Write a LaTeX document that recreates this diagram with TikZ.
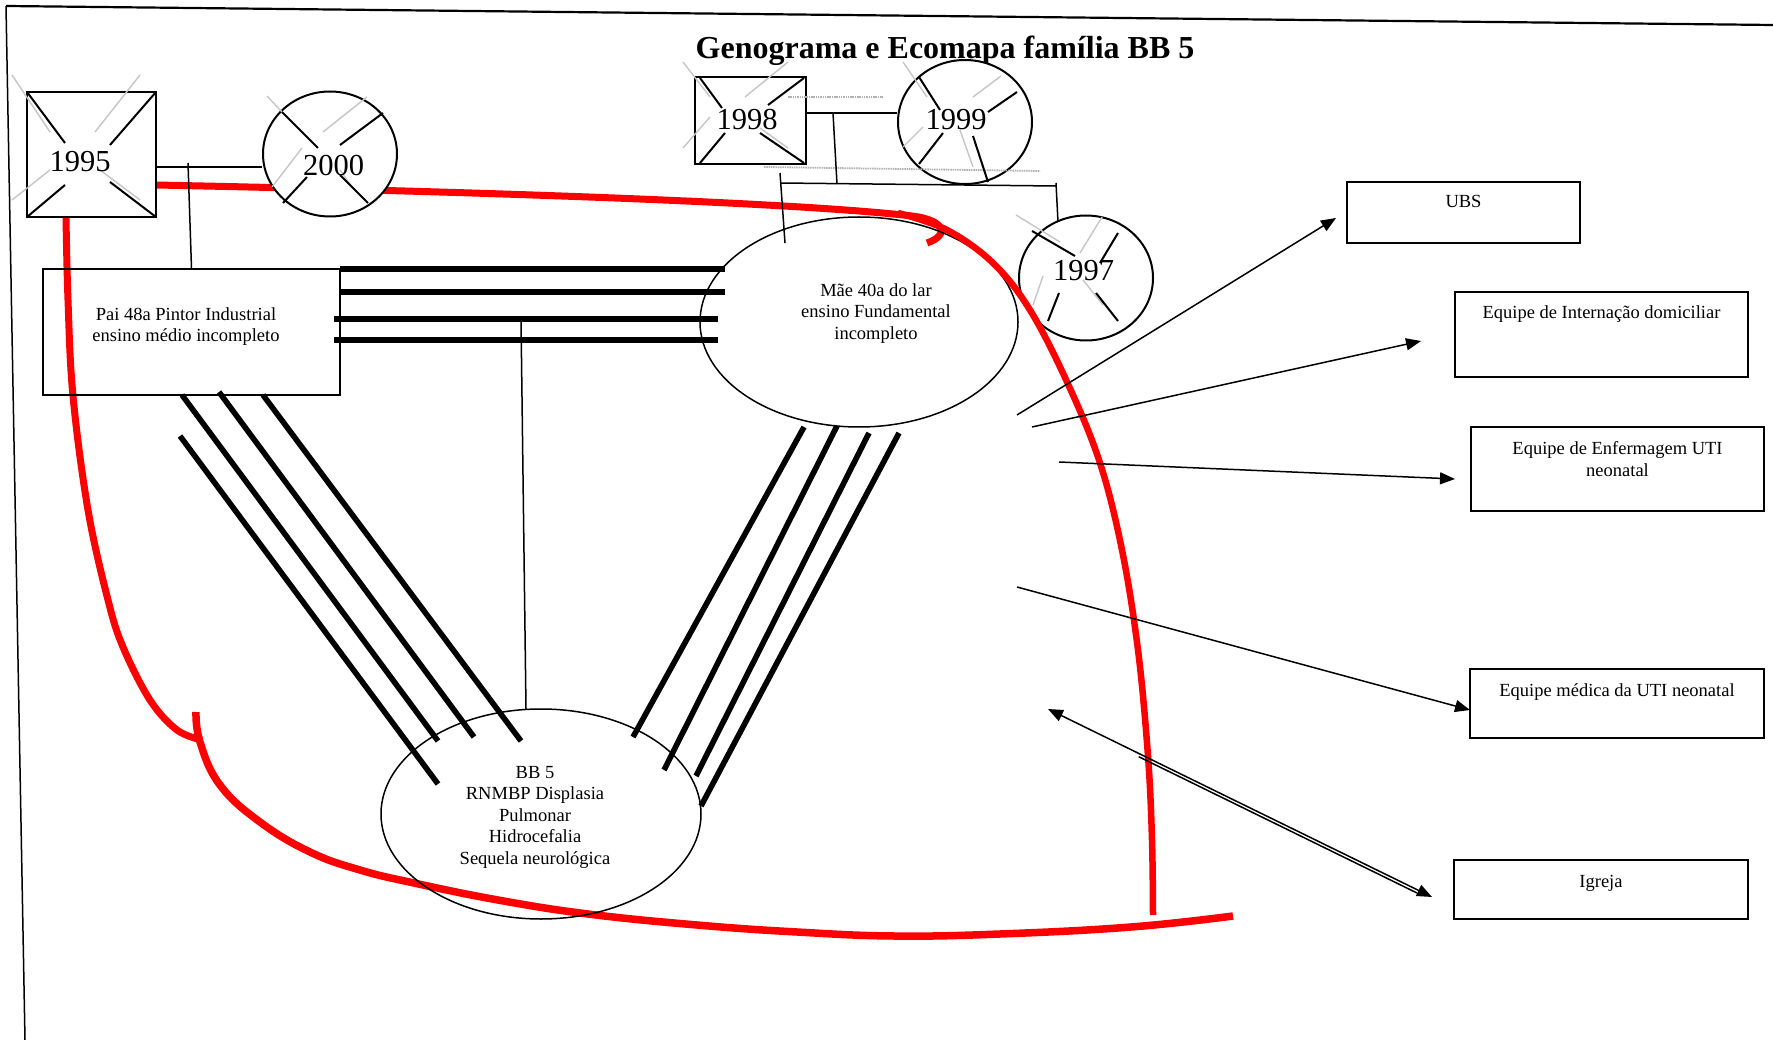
\documentclass[tikz,border=0pt]{standalone}
\usepackage{fontspec}
\setmainfont{Liberation Serif}
\usetikzlibrary{arrows.meta,shapes.geometric}
\begin{document}
\begin{tikzpicture}[x=1pt,y=-1pt,
  frameline/.style={line width=1.5pt},
  sym/.style={draw,line width=2pt,fill=white,inner sep=0pt},
  boxsym/.style={sym,rectangle},
  circsym/.style={sym,ellipse},
  xstroke/.style={line width=2pt},
  ghost/.style={gray!45,line width=1.4pt},
  link/.style={line width=1.5pt},
  bond/.style={line width=5.6pt},
  stress/.style={red,line width=7pt},
  eco/.style={line width=1.5pt,-{Triangle[length=15pt,width=12pt]}},
  ecobox/.style={draw,line width=2pt,rectangle,inner sep=0pt},
  person/.style={draw,line width=1.5pt,inner sep=0pt},
  yr/.style={font=\fontsize{30.5}{36}\selectfont,anchor=base,inner sep=0pt},
  txt/.style={font=\fontsize{18.5}{21.5}\selectfont,align=center,inner sep=0pt},
]
\useasboundingbox (0,0) rectangle (1773,1040);

% page frame
\draw[frameline,line width=2.2pt] (6,6) -- (1773,25);
\draw[frameline] (6,6) -- (25,1040);

% title
\node[font=\bfseries\fontsize{32}{38}\selectfont,anchor=base,inner sep=0pt] (title) at (945,59) {Genograma e Ecomapa família BB 5};

% stressful ties (red), lower layer
\draw[stress] (156,185) .. controls (500,192) and (800,203) .. (912,216)
              .. controls (945,220) and (950,235) .. (927,243);
\draw[stress] plot[smooth,tension=0.6] coordinates {(66,217) (68,300) (73,396) (88,510) (108,600) (123,647) (150,700) (177,730) (202,740)};
\draw[stress,line width=7.5pt] plot[smooth,tension=0.7] coordinates {(196,712) (200,742) (220,785) (260,822) (310,852) (360,870) (414,883) (498,900) (588,914) (697,925) (797,932) (894,936) (1000,934) (1131,927) (1233,916)};

% genogram symbols
\node[boxsym,minimum width=129pt,minimum height=125pt] (g1995) at (91.5,154.5) {};
\node[circsym,minimum width=134pt,minimum height=125pt] (g2000) at (330,154) {};
\node[boxsym,minimum width=111pt,minimum height=87pt] (g1998) at (750.5,120.5) {};
\node[circsym,minimum width=134pt,minimum height=124pt] (g1999) at (965,122) {};
\node[circsym,minimum width=134pt,minimum height=125pt] (g1997) at (1086,278) {};

% faint strokes
\draw[ghost] (12,75) -- (50,132) (140,75) -- (95,132) (12,200) -- (50,170) (140,200) -- (100,170);
\draw[ghost] (267,96) -- (283,113) (367,97) -- (323,132) (302,148) -- (272,187) (340,170) -- (352,187);
\draw[ghost] (683,62) -- (710,97) (788,62) -- (745,97) (683,148) -- (710,117) (788,148) -- (760,128);
\draw[ghost] (903,62) -- (927,97) (1001,76) -- (973,97) (903,147) -- (923,127) (960,130) -- (973,167);
\draw[ghost] (1016,215) -- (1060,242) (1102,217) -- (1080,253) (1043,276) -- (1033,305) (1083,280) -- (1103,305);
\draw[ghost,gray!60,line width=1.8pt,dash pattern=on 1.5pt off 0.8pt] (788,97) -- (883,97);
\draw[ghost,gray!60,line width=1.8pt,dash pattern=on 1.5pt off 0.8pt] (764,167) -- (1040,171);

% deceased crosses
\draw[xstroke] (27,92) -- (65,143) (156,92) -- (110,145) (27,217) -- (65,185) (156,217) -- (110,182);
\draw[xstroke] (282,112) -- (318,148) (383,113) -- (340,145) (283,203) -- (307,177) (368,203) -- (340,175);
\draw[xstroke] (700,78) -- (722,108) (804,78) -- (768,105) (700,163) -- (725,133) (804,163) -- (760,133);
\draw[xstroke] (919,77) -- (940,110) (1017,92) -- (988,112) (919,164) -- (943,133) (973,136) -- (988,182);
\draw[xstroke] (1032,231) -- (1075,256) (1118,233) -- (1100,263) (1059,293) -- (1048,321) (1096,293) -- (1118,321);

% years
\node[yr] (t1995) at (80,171.5) {1995};
\node[yr] (t2000) at (333.5,176) {2000};
\node[yr] (t1998) at (747,129.5) {1998};
\node[yr] (t1999) at (956,129.5) {1999};
\node[yr] (t1997) at (1083.5,281) {1997};

% family members
\node[person,rectangle,minimum width=297pt,minimum height=126pt] (pai) at (191.5,332) {};
\node[person,ellipse,minimum width=318pt,minimum height=210pt] (mae) at (859,322) {};
\node[person,ellipse,minimum width=320pt,minimum height=210pt] (bb) at (541,814) {};
\node[txt,anchor=north] (paitxt) at (186,307.4) {Pai 48a Pintor Industrial\\ensino médio incompleto};
\node[txt,anchor=north] (maetxt) at (876,283.4) {Mãe 40a do lar\\ensino Fundamental\\incompleto};
\node[txt,anchor=north] (bbtxt) at (535,765.8) {BB 5\\RNMBP Displasia\\Pulmonar\\Hidrocefalia\\Sequela neurológica};

% genogram links
\coordinate (j95) at (156,167);
\draw[link] (j95) -- (j95 -| g2000.west);
\draw[link] (188,163) -- (pai.north);
\coordinate (j98) at (806,113);
\draw[link] (j98) -- (j98 -| g1999.west);
\draw[link] (833,113) -- (837,184);
\draw[link] (780,183) -- (1056,186);
\draw[link] (780,173) -- (785,243);
\draw[link] (1056,183) -- (1058,222);
\draw[link] (521,319) -- (526,709);

% strong ties
\draw[bond] (340,269) -- (725,269) (340,292) -- (725,292) (334,319) -- (718,319) (334,340) -- (718,340);
\draw[bond] (180,436) -- (438,784) (182,395) -- (438,741) (219,392) -- (474,737) (263,395) -- (521,741);
\draw[bond] (804,427) -- (633,737) (837,426) -- (664,770) (869,433) -- (696,776) (899,433) -- (701,806);

% stressful tie around the mother, upper layer
\draw[stress,line width=6.5pt] plot[smooth,tension=0.6] coordinates {(898,213) (947,230) (993,263) (1030,310) (1068,384) (1100,463) (1122,550) (1138,650) (1148,756) (1152,840) (1153,915)};

% external resources
\node[ecobox,minimum width=233pt,minimum height=61pt] (ubs) at (1463.5,212.5) {};
\node[ecobox,minimum width=293pt,minimum height=85pt] (intern) at (1601.5,334.5) {};
\node[ecobox,minimum width=293pt,minimum height=84pt] (enf) at (1617.5,469) {};
\node[ecobox,minimum width=294pt,minimum height=69pt] (med) at (1617,703.5) {};
\node[ecobox,minimum width=294pt,minimum height=59pt] (igreja) at (1601,889.5) {};
\node[txt,anchor=base] (ubstxt) at ([yshift=-27pt]ubs.north) {UBS};
\node[txt,anchor=base] (interntxt) at ([yshift=-28pt]intern.north) {Equipe de Internação domiciliar};
\node[txt,anchor=north] (enftxt) at ([yshift=-15.4pt]enf.north) {Equipe de Enfermagem UTI\\neonatal};
\node[txt,anchor=base] (medtxt) at ([yshift=-28pt]med.north) {Equipe médica da UTI neonatal};
\node[txt,anchor=base] (igrejatxt) at ([yshift=-28pt]igreja.north) {Igreja};

% ecomap flows
\coordinate (a1) at (1336,218);
\coordinate (a2) at (1421,341);
\coordinate (a3) at (1455,479);
\coordinate (a4) at (1470,710);
\coordinate (a5) at (1432,897);
\coordinate (s5) at (1048,709);
\draw[eco] (1017,415) -- (a1);
\draw[eco] (1032,427) -- (a2);
\draw[eco] (1059,462) -- (a3);
\draw[eco] (1017,587) -- (a4);
\draw[link,{Triangle[length=15pt,width=12pt]}-{Triangle[length=15pt,width=12pt]}] (s5) -- (a5);
\draw[link] (1138.7,756.7) -- (1417,893);
\end{tikzpicture}
\end{document}
